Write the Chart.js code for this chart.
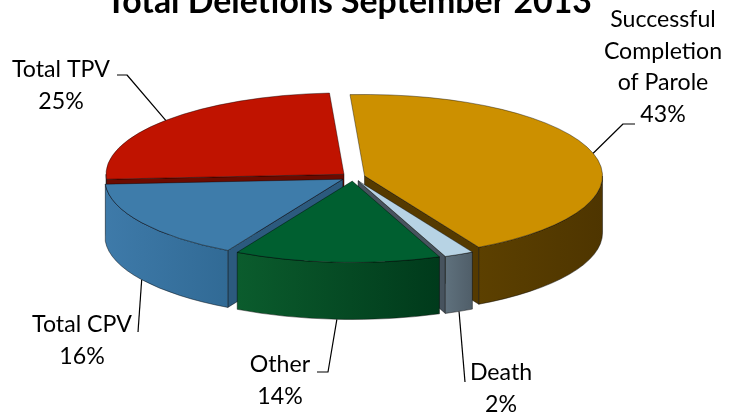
<!DOCTYPE html>
<html>
<head>
<meta charset="utf-8">
<script src="https://cdn.jsdelivr.net/npm/chart.js@4.4.0/dist/chart.umd.min.js"></script>
<style>
  html, body { margin: 0; padding: 0; background: #fff; }
  #wrap { width: 730px; height: 413px; }
</style>
</head>
<body>
<div id="wrap"><canvas id="pie" width="730" height="413"></canvas></div>
<script>
// --- data ---
const categories = ['Successful Completion of Parole', 'Death', 'Other', 'Total CPV', 'Total TPV'];
const shares = [43, 2, 14, 16, 25];
const chartTitle = 'Total Deletions September 2013';

// --- colours (top face, outer wall light/dark, cut faces) ---
const topColors  = ['#cc9000', '#b7d3e4', '#005f30', '#3e7caa', '#c01300'];
const wallLight  = ['#5c4000', '#5f717d', '#0b5c2d', '#3e7aa9', '#8a1200'];
const wallDark   = ['#4e3500', '#4f5d68', '#003a1b', '#316a95', '#6b0b00'];
const faceColors = ['#553a00', '#47535e', '#003c1c', '#2c5a7e', '#6b0b00'];

// --- label layout (lines of text, centre x, first baseline, leader start points) ---
const labelLines  = [['Successful', 'Completion', 'of Parole'], ['Death'], ['Other'], ['Total CPV'], ['Total TPV']];
const labelPos    = [[663, 27], [501, 380], [280, 372], [82, 332], [61, 77]];
const leaderStart = [[[635, 124], [623, 124]], [[465, 382]], [[317, 372], [328, 372]], [[138, 332]], [[117, 75], [127, 75]]];

// 3D view settings
const view = { cx: 353, cy: 177, squash: 0.342, depth: 57, explode: 12 };
const total = shares.reduce((a, b) => a + b, 0);

function sliceGeom(arc) {
    const s = arc.startAngle, e = arc.endAngle, mid = (s + e) / 2;
    const dx = Math.cos(mid) * view.explode, dy = Math.sin(mid) * view.explode;
    return { s, e, mid, r: arc.outerRadius, dx, dy, x: view.cx + dx, y: view.cy + dy * view.squash };
}

function rim(g, a, z) {
    return [g.x + g.r * Math.cos(a), g.y + g.r * view.squash * Math.sin(a) + z];
}

// side walls and cut faces
function drawWalls(ctx, g, i) {
    const D = view.depth, ry = g.r * view.squash;
    ctx.lineWidth = 0.8;
    ctx.strokeStyle = 'rgba(0,0,0,0.55)';
    ctx.lineJoin = 'round';

    const face = (a) => {
        const p = rim(g, a, 0);
        ctx.beginPath();
        ctx.moveTo(g.x, g.y);
        ctx.lineTo(p[0], p[1]);
        ctx.lineTo(p[0], p[1] + D);
        ctx.lineTo(g.x, g.y + D);
        ctx.closePath();
        ctx.fillStyle = faceColors[i];
        ctx.fill();
        ctx.stroke();
    };
    if (Math.cos(g.s) < -0.1) face(g.s);
    if (Math.cos(g.e) > 0.1) face(g.e);

    for (let n = -1; n <= 1; n++) {
        const a = Math.max(g.s, 2 * Math.PI * n);
        const b = Math.min(g.e, 2 * Math.PI * n + Math.PI);
        if (b - a < 1e-3) continue;
        const p1 = rim(g, a, 0), p2 = rim(g, b, 0);
        const grad = ctx.createLinearGradient(Math.min(p1[0], p2[0]), 0, Math.max(p1[0], p2[0]) + 1, 0);
        grad.addColorStop(0, wallLight[i]);
        grad.addColorStop(1, wallDark[i]);
        ctx.beginPath();
        ctx.ellipse(g.x, g.y, g.r, ry, 0, a, b);
        ctx.lineTo(p2[0], p2[1] + D);
        ctx.ellipse(g.x, g.y + D, g.r, ry, 0, b, a, true);
        ctx.closePath();
        ctx.fillStyle = grad;
        ctx.fill();
        ctx.stroke();
    }
}

function fitFont(ctx, text, width, weight) {
    ctx.font = weight + ' 100px Lato';
    return 100 * width / ctx.measureText(text).width;
}

const pie3d = {
    id: 'pie3d',
    beforeDatasetsDraw(chart) {
        const ctx = chart.ctx;
        const arcs = chart.getDatasetMeta(0).data;
        const geo = arcs.map(sliceGeom);

        // back-to-front walls
        const order = geo.map((g, i) => i).sort((a, b) => Math.sin(geo[a].mid) - Math.sin(geo[b].mid));
        order.forEach(i => drawWalls(ctx, geo[i], i));

        // explode each top face along its mid angle
        arcs.forEach(arc => {
            if (arc._exploded) return;
            const orig = arc.draw;
            arc.draw = function (c, area) {
                const mid = (this.startAngle + this.endAngle) / 2;
                c.save();
                c.translate(Math.cos(mid) * view.explode, Math.sin(mid) * view.explode);
                orig.call(this, c, area);
                c.restore();
            };
            arc._exploded = true;
        });

        // squash the library's round pie into the tilted ellipse
        const a0 = arcs[0];
        ctx.save();
        ctx.translate(view.cx, view.cy);
        ctx.scale(1, view.squash);
        ctx.translate(-a0.x, -a0.y);
    },
    afterDatasetsDraw(chart) {
        const ctx = chart.ctx;
        ctx.restore();
        const arcs = chart.getDatasetMeta(0).data;
        const geo = arcs.map(sliceGeom);

        // leader lines
        ctx.save();
        ctx.strokeStyle = '#000';
        ctx.lineWidth = 1.2;
        geo.forEach((g, i) => {
            const end = Math.sin(g.mid) < 0 ? rim(g, g.mid, 0) : rim(g, g.mid, view.depth);
            const pts = leaderStart[i];
            ctx.beginPath();
            ctx.moveTo(pts[0][0], pts[0][1]);
            for (let k = 1; k < pts.length; k++) ctx.lineTo(pts[k][0], pts[k][1]);
            ctx.lineTo(end[0], end[1]);
            ctx.stroke();
        });

        // labels
        const size = fitFont(ctx, 'Total TPV', 98, 'normal');
        ctx.font = 'normal ' + size.toFixed(2) + 'px Lato';
        ctx.fillStyle = '#000';
        ctx.textAlign = 'center';
        ctx.textBaseline = 'alphabetic';
        const lh = 31.5;
        geo.forEach((g, i) => {
            const lines = labelLines[i].concat([Math.round(shares[i] / total * 100) + '%']);
            lines.forEach((t, k) => ctx.fillText(t, labelPos[i][0], labelPos[i][1] + k * lh));
        });

        // title (top is cut by the frame, as in the original)
        const tsize = fitFont(ctx, chartTitle, 486, 'bold');
        ctx.font = 'bold ' + tsize.toFixed(2) + 'px Lato';
        ctx.fillText(chartTitle, 349, 13);
        ctx.restore();
    }
};

new Chart(document.getElementById('pie'), {
    type: 'pie',
    data: {
        labels: categories,
        datasets: [{
            data: shares,
            backgroundColor: topColors,
            borderColor: 'rgba(0,0,0,0.6)',
            borderWidth: 1,
            clip: false
        }]
    },
    options: {
        responsive: false,
        animation: false,
        events: [],
        rotation: -3.5,
        radius: 238,
        plugins: { legend: { display: false }, tooltip: { enabled: false }, title: { display: false } }
    },
    plugins: [pie3d]
});
</script>
</body>
</html>
